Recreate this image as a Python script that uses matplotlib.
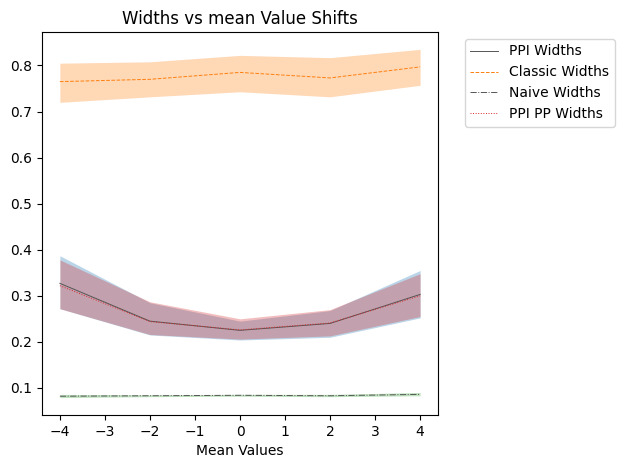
import numpy as np
import matplotlib
matplotlib.use('Agg')
from matplotlib import pyplot as plt

mean_values = [-4, -2, 0, 2, 4]

ppi_mid = [0.327, 0.245, 0.225, 0.240, 0.303]
ppi_lo = [0.272, 0.215, 0.204, 0.210, 0.252]
ppi_hi = [0.387, 0.285, 0.245, 0.268, 0.355]

classic_mid = [0.765, 0.770, 0.785, 0.773, 0.797]
classic_lo = [0.720, 0.732, 0.743, 0.732, 0.757]
classic_hi = [0.805, 0.808, 0.822, 0.817, 0.835]

naive_mid = [0.082, 0.083, 0.084, 0.083, 0.086]
naive_lo = [0.079, 0.081, 0.082, 0.081, 0.083]
naive_hi = [0.086, 0.085, 0.086, 0.086, 0.090]

pp_mid = [0.322, 0.244, 0.226, 0.241, 0.300]
pp_lo = [0.272, 0.216, 0.206, 0.213, 0.255]
pp_hi = [0.378, 0.287, 0.250, 0.270, 0.348]

fig = plt.figure(figsize=(6.25, 4.7), dpi=100)
ax = fig.add_axes([0.067, 0.117, 0.634, 0.815])

series = [
    ('PPI Widths', ppi_mid, ppi_lo, ppi_hi, 'C0', '-'),
    ('Classic Widths', classic_mid, classic_lo, classic_hi, 'C1', '--'),
    ('Naive Widths', naive_mid, naive_lo, naive_hi, 'C2', '-.'),
    ('PPI PP Widths', pp_mid, pp_lo, pp_hi, 'C3', ':'),
]
line_colors = ['#555555', 'C1', '#555555', 'C3']
for (name, mid, lo, hi, c, ls), lc in zip(series, line_colors):
    ax.plot(mean_values, mid, color=lc, linestyle=ls, linewidth=0.7, label=name)
    ax.fill_between(mean_values, lo, hi, color=c, alpha=0.3, linewidth=0)

ax.set_xticks(range(-4, 5))
ax.set_xlabel('Mean Values')
ax.set_title('Widths vs mean Value Shifts')
ax.legend(loc='upper left', bbox_to_anchor=(1.05, 1.0))
fig.savefig('out.png', dpi=100)
